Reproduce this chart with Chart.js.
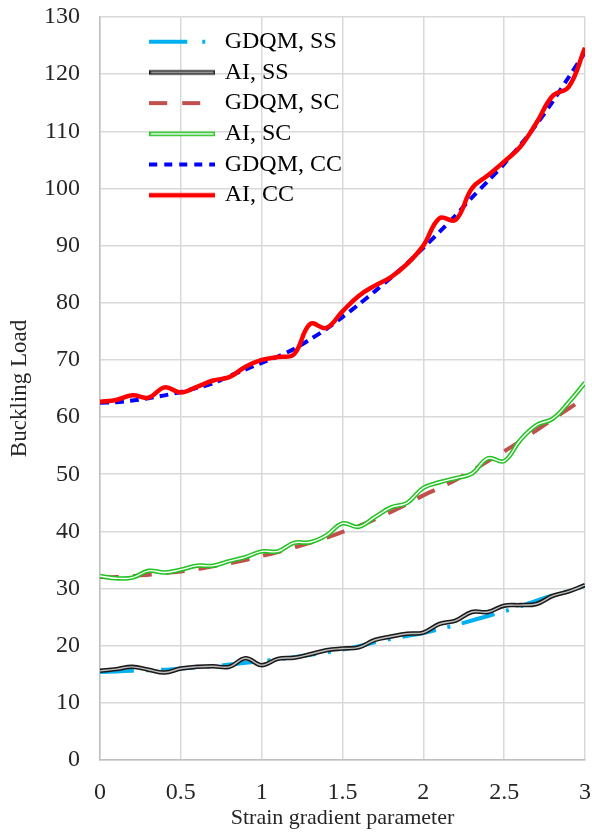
<!DOCTYPE html>
<html>
<head>
<meta charset="utf-8">
<script src="https://cdn.jsdelivr.net/npm/chart.js@4.4.1/dist/chart.umd.min.js"></script>
<style>
  html, body { margin: 0; padding: 0; background: #ffffff; }
  #wrap { width: 592px; height: 838px; }
</style>
</head>
<body>
<div id="wrap"><canvas id="bucklingChart" width="592" height="838"></canvas></div>
<script>
// Strain gradient parameter (x) and buckling loads
const xValues = [0, 0.1, 0.2, 0.3, 0.4, 0.5, 0.6, 0.7, 0.8, 0.9, 1.0,
                 1.1, 1.2, 1.3, 1.4, 1.5, 1.6, 1.7, 1.8, 1.9, 2.0,
                 2.1, 2.2, 2.3, 2.4, 2.5, 2.6, 2.7, 2.8, 2.9, 3.0];

const gdqmSS = [15.4, 15.5, 15.6, 15.7, 15.8, 16.0, 16.2, 16.4, 16.7, 17.0, 17.3,
                17.6, 18.0, 18.4, 18.8, 19.3, 19.9, 20.6, 21.2, 21.7, 22.2,
                22.9, 23.6, 24.4, 25.2, 26.0, 26.9, 27.9, 28.8, 29.6, 30.5];
const aiSS   = [15.6, 15.9, 16.3, 15.8, 15.3, 16.0, 16.3, 16.4, 16.3, 17.8, 16.6,
                17.7, 17.9, 18.5, 19.2, 19.5, 19.7, 21.0, 21.6, 22.1, 22.3,
                23.8, 24.4, 25.9, 25.9, 27.0, 27.1, 27.3, 28.7, 29.5, 30.6];
const gdqmSC = [32.0, 32.0, 32.2, 32.4, 32.7, 33.0, 33.4, 33.9, 34.4, 35.0, 35.7,
                36.4, 37.2, 38.0, 38.9, 39.9, 40.9, 42.1, 43.4, 44.8, 46.3,
                47.6, 49.0, 50.6, 52.3, 54.0, 55.8, 57.7, 59.6, 61.5, 63.4];
const aiSC   = [32.2, 31.8, 31.9, 33.1, 32.8, 33.3, 34.0, 34.0, 34.8, 35.5, 36.5,
                36.5, 38.0, 38.1, 39.3, 41.4, 40.8, 42.5, 44.2, 45.0, 47.6,
                48.6, 49.3, 50.1, 52.8, 52.3, 56.0, 58.6, 59.7, 62.6, 66.0];
const gdqmCC = [62.5, 62.6, 62.9, 63.3, 63.8, 64.4, 65.1, 65.9, 67.2, 68.3, 69.5,
                70.6, 71.9, 73.6, 75.4, 77.5, 79.7, 82.0, 84.4, 86.9, 89.6,
                92.4, 95.3, 98.4, 101.3, 104.3, 107.6, 111.2, 115.2, 119.5, 123.8];
const aiCC   = [62.7, 63.0, 63.8, 63.4, 65.2, 64.3, 65.3, 66.4, 67.0, 68.8, 70.0,
                70.5, 71.0, 76.3, 75.6, 78.5, 81.2, 83.0, 84.5, 86.8, 90.0,
                94.8, 94.5, 100.0, 102.3, 104.7, 107.3, 111.5, 116.2, 117.8, 124.6];

const seriesNames = ['GDQM, SS', 'AI, SS', 'GDQM, SC', 'AI, SC', 'GDQM, CC', 'AI, CC'];
const xTickLabels = ['0', '0.5', '1', '1.5', '2', '2.5', '3'];
const yTickLabels = ['0', '10', '20', '30', '40', '50', '60', '70', '80', '90', '100', '110', '120', '130'];

const FONT = "'Liberation Serif', 'Times New Roman', serif";
const TEXT = '#262626';

function toPoints(values) {
    return xValues.map((x, i) => ({ x: x, y: values[i] }));
}

// small canvases used as legend samples (dash patterns and double lines)
function makeSample(color, width, dash, innerColor) {
    const c = document.createElement('canvas');
    c.width = 66;
    c.height = 10;
    const g = c.getContext('2d');
    g.strokeStyle = color;
    g.lineWidth = width;
    g.setLineDash(dash);
    g.beginPath();
    g.moveTo(0, 5);
    g.lineTo(66, 5);
    g.stroke();
    if (innerColor) {
        g.setLineDash([]);
        g.strokeStyle = innerColor;
        g.lineWidth = 1.4;
        g.beginPath();
        g.moveTo(1.5, 5);
        g.lineTo(64.5, 5);
        g.stroke();
    }
    return c;
}

const samples = [
    makeSample('#00b0f0', 4, [38, 15, 3, 20]),
    makeSample('#1a1a1a', 4.5, [], '#bdbdbd'),
    makeSample('#c0504d', 4, [18, 15]),
    makeSample('#22c322', 4.5, [], '#ffffff'),
    makeSample('#0000ff', 4, [8, 7]),
    makeSample('#ff0000', 4.5, [])
];

function lineSet(label, values, color, width, dash, order, tension) {
    return {
        label: label,
        data: toPoints(values),
        borderColor: color,
        backgroundColor: color,
        borderWidth: width,
        borderDash: dash,
        pointRadius: 0,
        pointHoverRadius: 0,
        fill: false,
        tension: tension,
        order: order
    };
}

const datasets = [
    lineSet(seriesNames[0], gdqmSS, '#00b0f0', 4, [34, 12, 3, 12], 8, 0.3),
    lineSet(seriesNames[1], aiSS, '#1a1a1a', 4.5, [], 7, 0.4),
    lineSet(seriesNames[2], gdqmSC, '#c0504d', 4, [19, 14], 5, 0.3),
    lineSet(seriesNames[3], aiSC, '#22c322', 4.5, [], 4, 0.4),
    lineSet(seriesNames[4], gdqmCC, '#0000ff', 4, [9, 6], 2, 0.3),
    lineSet(seriesNames[5], aiCC, '#ff0000', 4.5, [], 1, 0.4),
    // inner strokes that give the AI SS / AI SC lines their double-line look
    lineSet('AI, SS inner', aiSS, '#bdbdbd', 1.4, [], 6, 0.4),
    lineSet('AI, SC inner', aiSC, '#ffffff', 1.4, [], 3, 0.4)
];

// place the legend inside the plot, upper left
const legendPlacer = {
    id: 'legendPlacer',
    afterLayout(chart) {
        const lg = chart.legend;
        const area = chart.chartArea;
        lg.left = area.left + 45;
        lg.top = area.top + 6;
        lg.bottom = area.bottom;
    }
};

const ctx = document.getElementById('bucklingChart');
const chart = new Chart(ctx, {
    type: 'line',
    data: { datasets: datasets },
    plugins: [legendPlacer],
    options: {
        responsive: false,
        animation: false,
        devicePixelRatio: 1,
        layout: { padding: { left: 0, right: 7, top: 17, bottom: 0 } },
        plugins: {
            title: { display: false },
            tooltip: { enabled: false },
            legend: {
                display: true,
                position: 'chartArea',
                align: 'start',
                labels: {
                    usePointStyle: true,
                    pointStyleWidth: 61,
                    padding: 6.7,
                    color: '#000000',
                    font: { family: FONT, size: 24 },
                    generateLabels: () => seriesNames.map((name, i) => ({
                        text: name,
                        pointStyle: samples[i],
                        fillStyle: 'rgba(0,0,0,0)',
                        strokeStyle: 'rgba(0,0,0,0)',
                        lineWidth: 0,
                        fontColor: '#000000',
                        hidden: false,
                        datasetIndex: i
                    }))
                }
            }
        },
        scales: {
            x: {
                type: 'linear',
                min: 0,
                max: 3,
                afterFit: (s) => {
                    s.height = 78;
                    s.paddingLeft = 0;
                    s.paddingRight = 0;
                },
                grid: { color: '#d9d9d9', lineWidth: 1.5, drawTicks: false },
                border: { color: '#bfbfbf', width: 1.5 },
                ticks: {
                    stepSize: 0.5,
                    autoSkip: false,
                    maxRotation: 0,
                    padding: 18,
                    color: TEXT,
                    font: { family: FONT, size: 24 },
                    callback: (v, i) => xTickLabels[i]
                },
                title: {
                    display: true,
                    text: 'Strain gradient parameter',
                    color: TEXT,
                    font: { family: FONT, size: 22 },
                    padding: { top: 0, bottom: 7 }
                }
            },
            y: {
                min: 0,
                max: 130,
                afterFit: (s) => {
                    s.width = 100;
                    s.paddingTop = 0;
                    s.paddingBottom = 0;
                },
                grid: { color: '#d9d9d9', lineWidth: 1.5, drawTicks: false },
                border: { color: '#bfbfbf', width: 1.5 },
                ticks: {
                    stepSize: 10,
                    autoSkip: false,
                    padding: 20,
                    color: TEXT,
                    font: { family: FONT, size: 24 },
                    callback: (v, i) => yTickLabels[i]
                },
                title: {
                    display: true,
                    text: 'Buckling Load',
                    color: TEXT,
                    font: { family: FONT, size: 23 },
                    padding: { top: 6, bottom: 0 }
                }
            }
        }
    }
});
</script>
</body>
</html>
